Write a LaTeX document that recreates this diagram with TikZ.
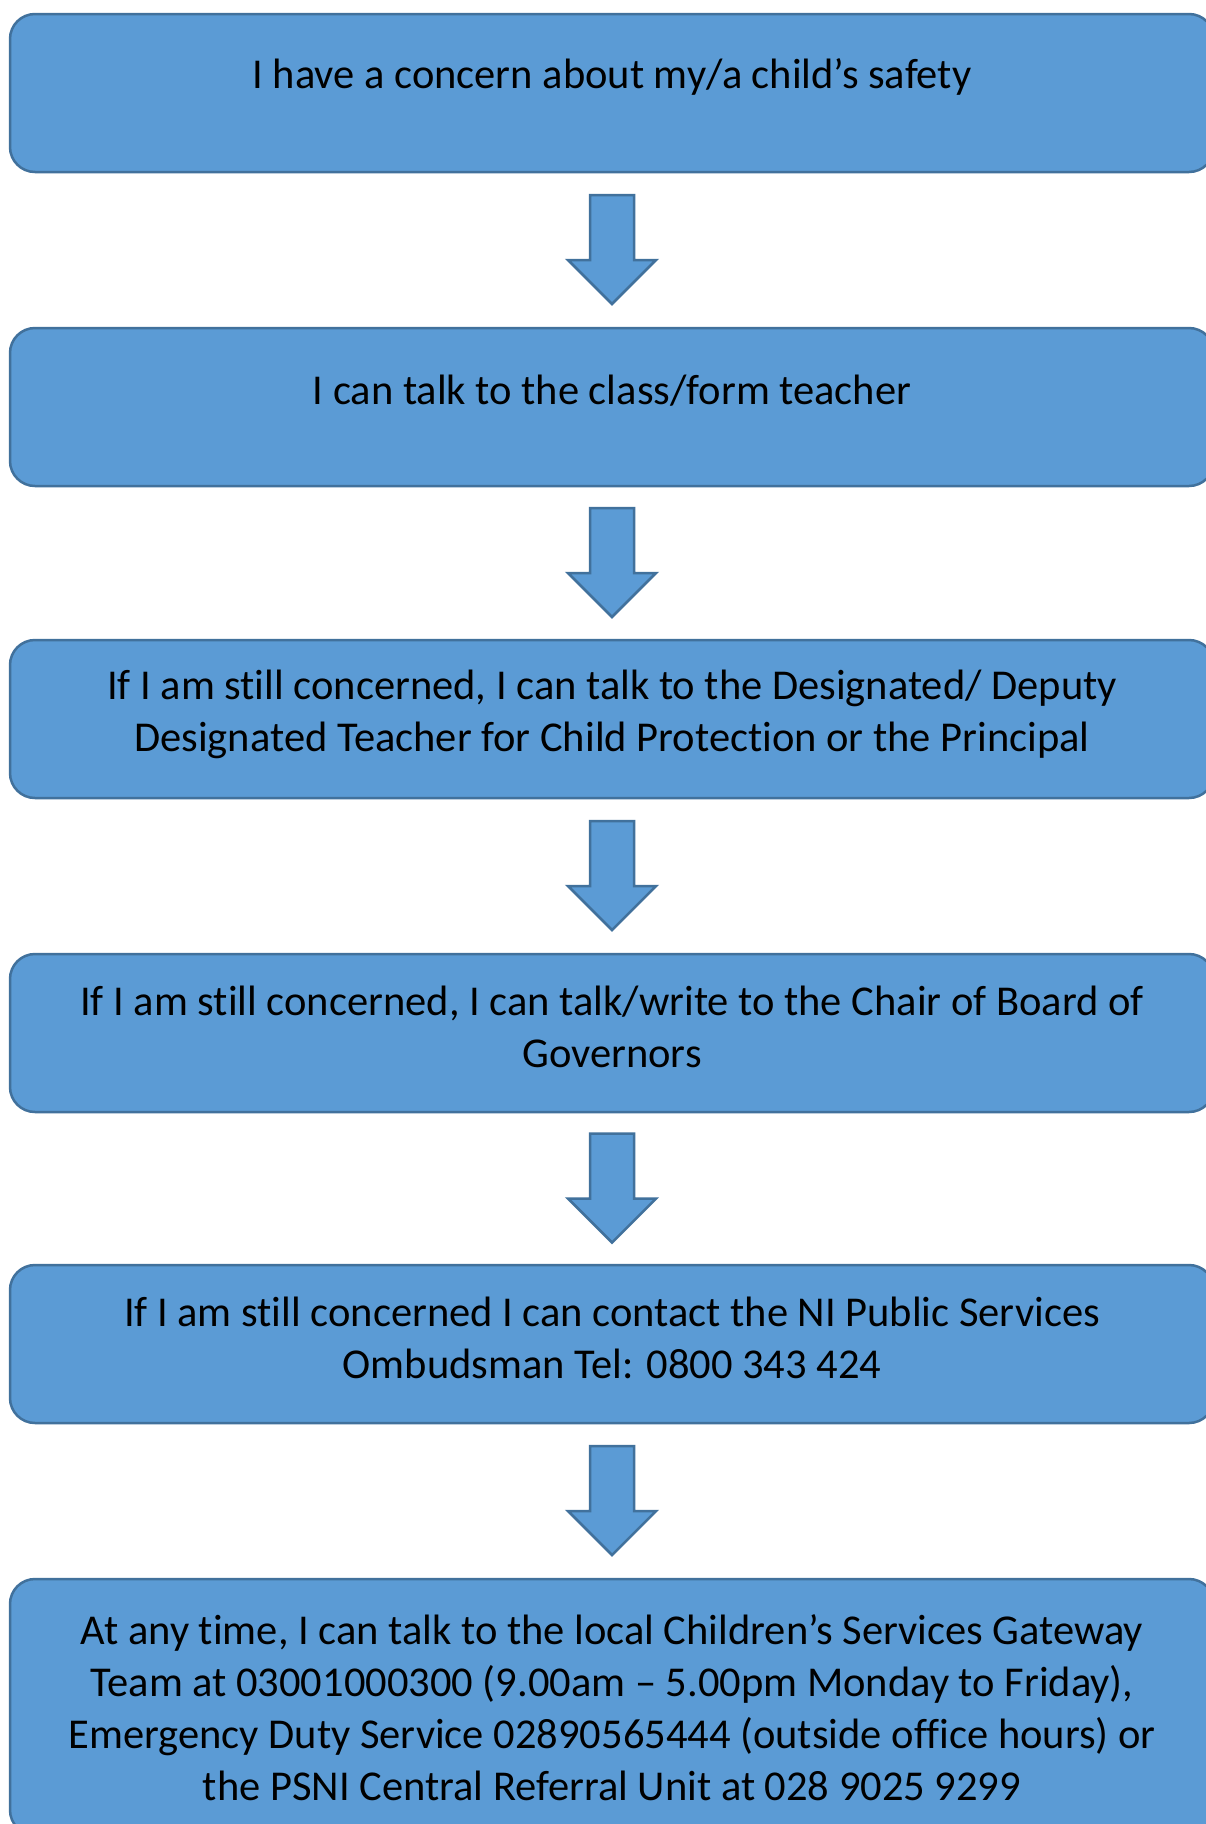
\documentclass[tikz,border=0pt]{standalone}
\usepackage{fontspec}
\setmainfont{Carlito}[RawFeature=-liga, RawFeature=-clig, RawFeature=-calt, RawFeature=-dlig]
\usetikzlibrary{calc}
\definecolor{boxfill}{HTML}{5B9BD5}
\definecolor{boxline}{HTML}{41719C}
\newcommand{\tibrk}{t\kern0pt i}
\begin{document}
\begin{tikzpicture}[x=1pt,y=-1pt,
  stepbox/.style={draw=boxline, line width=2.5pt, fill=boxfill, rounded corners=25pt,
    minimum width=1204pt, minimum height=158pt, inner sep=0pt},
  boxtext/.style={align=center, font=\fontsize{42.5pt}{52pt}\selectfont, inner sep=0pt},
  blockarrow/.style={draw=boxline, line width=2.5pt, fill=boxfill, line join=miter}]
\useasboundingbox (0,0) rectangle (1206,1824);
\fill[white] (0,0) rectangle (1206,1824);
\node[stepbox] (b1) at (612,93) {};
\node[stepbox] (b2) at (612,407) {};
\node[stepbox] (b3) at (612,719) {};
\node[stepbox] (b4) at (612,1033) {};
\node[stepbox] (b5) at (612,1344) {};
\node[stepbox, minimum height=256pt] (b6) at (612,1707) {};
\node[boxtext] (t1) at (612,77) {I have a concern about my/a child’s safety};
\node[boxtext] (t2) at (612,391) {I can talk to the class/form teacher};
\node[boxtext] (t3) at (612,714) {If I am s\tibrk ll concerned, I can talk to the Designated/ Deputy\\Designated Teacher for Child Protec\tibrk on or the Principal};
\node[boxtext] (t4) at (612,1027) {If I am s\tibrk ll concerned, I can talk/write to the Chair of Board of\\Governors};
\node[boxtext] (t5) at (612,1338) {If I am s\tibrk ll concerned I can contact the NI Public Services\\Ombudsman Tel: 0800 343 424};
\node[boxtext] (t6) at (612,1708) {At any \tibrk me, I can talk to the local Children’s Services Gateway\\Team at 03001000300 (9.00am – 5.00pm Monday to Friday),\\Emergency Duty Service 02890565444 (outside office hours) or\\the PSNI Central Referral Unit at 028 9025 9299};
\foreach \a/\b [count=\i] in {b1/b2,b2/b3,b3/b4,b4/b5,b5/b6} {
  \coordinate (m\i) at ($(\a.south)!0.5!(\b.north)$);
  \draw[blockarrow] ([shift={(-22,-55)}]m\i) -- ([shift={(22,-55)}]m\i)
    -- ([shift={(22,10)}]m\i) -- ([shift={(44,10)}]m\i) -- ([shift={(0,54)}]m\i)
    -- ([shift={(-44,10)}]m\i) -- ([shift={(-22,10)}]m\i) -- cycle;
}
\end{tikzpicture}
\end{document}
